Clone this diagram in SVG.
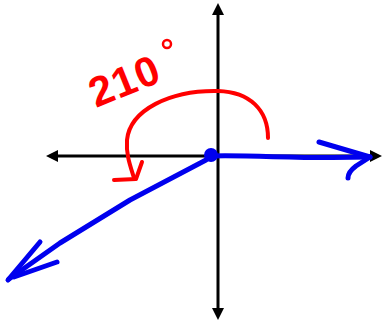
<svg xmlns="http://www.w3.org/2000/svg" width="382" height="323" viewBox="0 0 382 323">
<style>
.axis{stroke:#000;stroke-width:3;fill:none}
.head{fill:#000}
.blue{stroke:#0000ee;stroke-width:5;fill:none;stroke-linecap:round;stroke-linejoin:round}
.red{stroke:#ff0000;stroke-width:4;fill:none;stroke-linecap:round;stroke-linejoin:round}
</style>
<rect width="382" height="323" fill="#fff"/>
<g id="axes">
<line class="axis" x1="218" y1="10" x2="218" y2="312"/>
<line class="axis" x1="52" y1="156" x2="376" y2="156"/>
<polygon class="head" points="218,3 212,15 224,15"/>
<polygon class="head" points="218,320 212,308 224,308"/>
<polygon class="head" points="46,156 58,150 58,162"/>
<polygon class="head" points="382,156 370,150 370,162"/>
</g>
<g id="angle-arc">
<path class="red" d="M268,138 C268,110 250,92 218,91 C170,90 130,110 127,140 C126,155 130,165 134,178"/>
<path class="red" d="M142,162 L136,179 L114,180"/>
</g>
<g id="label">
<text x="96" y="108" transform="rotate(-22 96 108)" font-family="Liberation Sans, sans-serif" font-size="42" font-weight="bold" letter-spacing="1" fill="#ff0000">210</text>
<circle cx="167" cy="44" r="4" fill="none" stroke="#ff0000" stroke-width="2.5"/>
</g>
<g id="connectors">
<path class="blue" d="M211,156 C260,155 300,159 370,157"/>
<path class="blue" d="M319,142 L370,157 L356,166 Q348,172 348,178"/>
<path class="blue" d="M206,160 L130,200 L60,243 L9,279"/>
<path class="blue" d="M40,242 L8,280"/>
<path class="blue" d="M57,262 L14,277"/>
</g>
<g id="origin">
<circle cx="211" cy="155" r="7" fill="#0000ee"/>
</g>
</svg>
